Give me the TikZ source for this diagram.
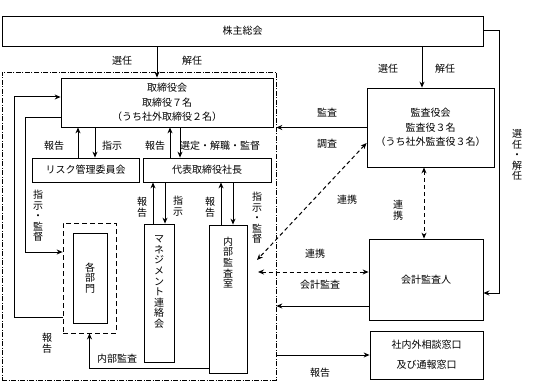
\documentclass[tikz,border=0pt]{standalone}
\usepackage{fontspec}
\setmainfont{Noto Sans CJK JP}
\usetikzlibrary{arrows.meta, positioning, calc}
\tikzset{
  box/.style={draw, line width=0.8pt, align=center, inner sep=0pt, font=\fontsize{10}{14.5}\selectfont},
  rahmen/.style={draw, line width=0.6pt, dash pattern=on 5pt off 1.5pt on 1pt off 1.5pt, inner sep=0pt},
  pfeil/.style={-{Stealth[length=6pt, width=5pt]}, line width=1pt},
  doppelpfeil/.style={{Stealth[length=6pt, width=5pt]}-{Stealth[length=6pt, width=5pt]}, line width=1pt, dash pattern=on 4pt off 3pt},
  beschr/.style={inner sep=0pt, font=\fontsize{10}{12}\selectfont},
  senk/.style={align=center, inner sep=0pt, font=\fontsize{10}{10.6}\selectfont},
}
\begin{document}
\begin{tikzpicture}[x=1pt, y=-1pt]
    \useasboundingbox (0,0) rectangle (534,382);
    \node[rahmen, minimum width=274pt, minimum height=308pt] (kreis) at (139,226) {};
    \node[box, minimum width=481pt, minimum height=30pt] (kabu) at (242.5,31) {株主総会};
    \node[box, minimum width=212pt, minimum height=49pt] (tori) at (167,102.5) {取締役会\\取締役７名\\（うち社外取締役２名）};
    \node[box, minimum width=107pt, minimum height=24pt] (risk) at (85.5,170) {リスク管理委員会};
    \node[box, minimum width=128pt, minimum height=24pt] (daihyo) at (207,170) {代表取締役社長};
    \node[box, minimum width=127pt, minimum height=79pt] (kansa) at (430.5,127.5) {監査役会\\監査役３名\\（うち社外監査役３名）};
    \node[box, dash pattern=on 5pt off 3pt, minimum width=53pt, minimum height=110pt] (bumonrand) at (89.5,278) {};
    \node[box, font=\fontsize{10}{10.4}\selectfont, minimum width=34pt, minimum height=90pt] (bumon) at (90,278) {各\\部\\門};
    \node[box, minimum width=30pt, minimum height=138pt] (mgmt) at (159,293) {};
    \node[senk, below=12pt of mgmt.north] (mgmttext) {マ\\ネ\\ジ\\メ\\ン\\ト\\連\\絡\\会};
    \node[box, minimum width=38pt, minimum height=148pt] (naibu) at (228,299) {};
    \node[senk, below=12pt of naibu.north] (naibutext) {内\\部\\監\\査\\室};
    \node[box, minimum width=114pt, minimum height=81pt] (kaikei) at (426,279.5) {会計監査人};
    \node[box, font=\fontsize{10}{20}\selectfont, minimum width=113pt, minimum height=48pt] (soudan) at (426.5,355) {社内外相談窓口\\及び通報窓口};
    \coordinate (diag) at (257,260);
    \coordinate (quer) at (258,272);

    \draw[pfeil] ([xshift=-10pt]tori.north |- kabu.south) -- ([xshift=-10pt]tori.north);
    \draw[pfeil] ([xshift=-8.5pt]kansa.north |- kabu.south) -- ([xshift=-8.5pt]kansa.north);
    \draw[pfeil] (kabu.east) -- ++(16,0) |- ([yshift=-13.5pt]kaikei.east);
    \draw[pfeil] ([xshift=-7.5pt]risk.north) -- ([xshift=-7.5pt]risk.north |- tori.south);
    \draw[pfeil] ([xshift=9.5pt]risk.north |- tori.south) -- ([xshift=9.5pt]risk.north);
    \draw[pfeil] ([xshift=-37pt]daihyo.north) -- ([xshift=-37pt]daihyo.north |- tori.south);
    \draw[pfeil] ([xshift=-27pt]daihyo.north |- tori.south) -- ([xshift=-27pt]daihyo.north);
    \draw[pfeil] ([yshift=-39pt]bumonrand.west) -- ++(-48,0) |- ([yshift=5.5pt]tori.west);
    \draw[pfeil] ([yshift=-15.5pt]tori.west) -- ++(-35,0) |- ([yshift=26pt]bumonrand.west);
    \draw[pfeil] ([xshift=-6pt]mgmt.north) -- ([xshift=-6pt]mgmt.north |- daihyo.south);
    \draw[pfeil] ([xshift=6pt]mgmt.north |- daihyo.south) -- ([xshift=6pt]mgmt.north);
    \draw[pfeil] ([xshift=-7pt]naibu.north) -- ([xshift=-7pt]naibu.north |- daihyo.south);
    \draw[pfeil] ([xshift=5pt]naibu.north |- daihyo.south) -- ([xshift=5pt]naibu.north);
    \draw[pfeil] ([yshift=5pt]naibu.south west) -| (bumonrand.south);
    \draw[pfeil] (kansa.west) -- (kansa.west -| kreis.east);
    \draw[doppelpfeil] ([yshift=-15.5pt]kansa.west) -- (diag);
    \draw[doppelpfeil] (quer) -- (quer -| kaikei.west);
    \draw[doppelpfeil] ([xshift=-6.5pt]kansa.south) -- ([xshift=-6.5pt]kansa.south |- kaikei.north);
    \draw[pfeil] ([yshift=-26.5pt]kaikei.west) -- ([yshift=-26.5pt]kaikei.west -| kreis.east);
    \draw[pfeil] (soudan.west -| kreis.east) -- (soudan.west);

    \node[beschr] (sen1) at (122,61) {選任};
    \node[beschr] (kai1) at (192,61) {解任};
    \node[beschr] (sen2) at (388,69) {選任};
    \node[beschr] (kai2) at (445,69) {解任};
    \node[senk] (senkai) at (517,155) {選\\任\\・\\解\\任};
    \node[beschr] (hou1) at (54,146) {報告};
    \node[beschr] (shi1) at (112,146) {指示};
    \node[beschr] (hou2) at (155,146) {報告};
    \node[beschr] (sentei) at (220,146) {選定・解職・監督};
    \node[beschr] (kan1) at (327,113) {監査};
    \node[beschr] (chou) at (327,144) {調査};
    \node[senk] (shikan1) at (38,216) {指\\示\\・\\監\\督};
    \node[senk] (hou3) at (142,207) {報\\告};
    \node[senk] (shi2) at (178,206) {指\\示};
    \node[senk] (hou4) at (210,207) {報\\告};
    \node[senk] (shikan2) at (257,218) {指\\示\\・\\監\\督};
    \node[beschr] (ren1) at (347,200) {連携};
    \node[senk] (ren2) at (398,210) {連\\携};
    \node[beschr] (ren3) at (315,254) {連携};
    \node[beschr] (kaikan) at (320,285) {会計監査};
    \node[senk] (hou5) at (47,343) {報\\告};
    \node[beschr] (naikan) at (117,359) {内部監査};
    \node[beschr] (hou6) at (320,373) {報告};
  \end{tikzpicture}
\end{document}
